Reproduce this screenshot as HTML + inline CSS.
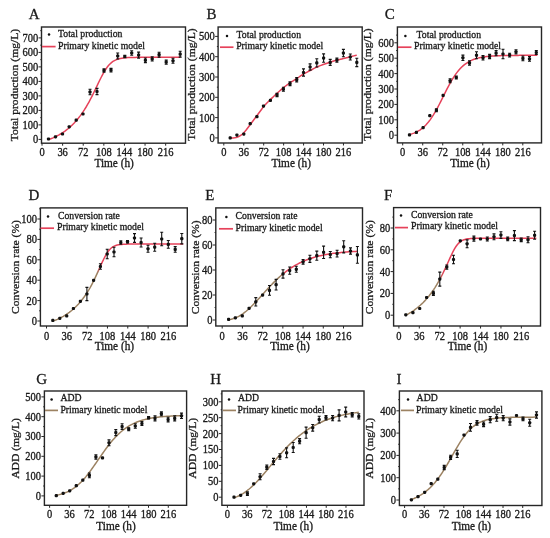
<!DOCTYPE html>
<html><head><meta charset="utf-8"><title>Kinetic model figure</title>
<style>
html,body{margin:0;padding:0;background:#fff;width:550px;height:538px;overflow:hidden}
svg{display:block;filter:blur(0.6px)}
</style></head><body>
<svg width="550" height="538" viewBox="0 0 550 538">
<defs><linearGradient id="gD" gradientUnits="userSpaceOnUse" x1="0" y1="273" x2="0" y2="267"><stop offset="0" stop-color="#9c8262"/><stop offset="1" stop-color="#e6425a"/></linearGradient>
<linearGradient id="gE" gradientUnits="userSpaceOnUse" x1="280" y1="0" x2="286" y2="0"><stop offset="0" stop-color="#9c8262"/><stop offset="1" stop-color="#e6425a"/></linearGradient>
<linearGradient id="gF" gradientUnits="userSpaceOnUse" x1="438" y1="0" x2="444" y2="0"><stop offset="0" stop-color="#9c8262"/><stop offset="1" stop-color="#e6425a"/></linearGradient></defs>
<style>
text{font-family:"Liberation Serif", serif;fill:#1a1a1a;stroke:#1a1a1a;stroke-width:0.3}
.ax{stroke:#262626;stroke-width:1}
.box{fill:none;stroke:#262626;stroke-width:1.4}
.eb{stroke:#111;stroke-width:1.1;fill:none}
</style>
<rect width="550" height="538" fill="#fff"/>
<g><text transform="translate(34.05,19.3) scale(1,1.040)" font-size="15" text-anchor="middle">A</text>
<line x1="38.5" y1="139.4" x2="41.5" y2="139.4" class="ax"/>
<text transform="translate(38.2,143.3) scale(1,1.100)" font-size="10.5" text-anchor="end">0</text>
<line x1="38.5" y1="124.9" x2="41.5" y2="124.9" class="ax"/>
<text transform="translate(38.2,128.8) scale(1,1.100)" font-size="10.5" text-anchor="end">100</text>
<line x1="38.5" y1="110.4" x2="41.5" y2="110.4" class="ax"/>
<text transform="translate(38.2,114.3) scale(1,1.100)" font-size="10.5" text-anchor="end">200</text>
<line x1="38.5" y1="95.9" x2="41.5" y2="95.9" class="ax"/>
<text transform="translate(38.2,99.8) scale(1,1.100)" font-size="10.5" text-anchor="end">300</text>
<line x1="38.5" y1="81.4" x2="41.5" y2="81.4" class="ax"/>
<text transform="translate(38.2,85.3) scale(1,1.100)" font-size="10.5" text-anchor="end">400</text>
<line x1="38.5" y1="66.9" x2="41.5" y2="66.9" class="ax"/>
<text transform="translate(38.2,70.8) scale(1,1.100)" font-size="10.5" text-anchor="end">500</text>
<line x1="38.5" y1="52.4" x2="41.5" y2="52.4" class="ax"/>
<text transform="translate(38.2,56.3) scale(1,1.100)" font-size="10.5" text-anchor="end">600</text>
<line x1="38.5" y1="37.9" x2="41.5" y2="37.9" class="ax"/>
<text transform="translate(38.2,41.8) scale(1,1.100)" font-size="10.5" text-anchor="end">700</text>
<line x1="40.3" y1="132.15" x2="41.5" y2="132.15" class="ax"/>
<line x1="40.3" y1="117.65" x2="41.5" y2="117.65" class="ax"/>
<line x1="40.3" y1="103.15" x2="41.5" y2="103.15" class="ax"/>
<line x1="40.3" y1="88.65" x2="41.5" y2="88.65" class="ax"/>
<line x1="40.3" y1="74.15" x2="41.5" y2="74.15" class="ax"/>
<line x1="40.3" y1="59.65" x2="41.5" y2="59.65" class="ax"/>
<line x1="40.3" y1="45.15" x2="41.5" y2="45.15" class="ax"/>
<line x1="40.3" y1="30.65" x2="41.5" y2="30.65" class="ax"/>
<line x1="42" y1="143.2" x2="42" y2="145.7" class="ax"/>
<text transform="translate(42,155.7) scale(1,1.100)" font-size="10.5" text-anchor="middle">0</text>
<line x1="62.61" y1="143.2" x2="62.61" y2="145.7" class="ax"/>
<text transform="translate(62.61,155.7) scale(1,1.100)" font-size="10.5" text-anchor="middle">36</text>
<line x1="83.22" y1="143.2" x2="83.22" y2="145.7" class="ax"/>
<text transform="translate(83.22,155.7) scale(1,1.100)" font-size="10.5" text-anchor="middle">72</text>
<line x1="103.83" y1="143.2" x2="103.83" y2="145.7" class="ax"/>
<text transform="translate(103.83,155.7) scale(1,1.100)" font-size="10.5" text-anchor="middle">108</text>
<line x1="124.44" y1="143.2" x2="124.44" y2="145.7" class="ax"/>
<text transform="translate(124.44,155.7) scale(1,1.100)" font-size="10.5" text-anchor="middle">144</text>
<line x1="145.05" y1="143.2" x2="145.05" y2="145.7" class="ax"/>
<text transform="translate(145.05,155.7) scale(1,1.100)" font-size="10.5" text-anchor="middle">180</text>
<line x1="165.66" y1="143.2" x2="165.66" y2="145.7" class="ax"/>
<text transform="translate(165.66,155.7) scale(1,1.100)" font-size="10.5" text-anchor="middle">216</text>
<rect x="41.5" y="27" width="144" height="116.2" class="box"/>
<text transform="translate(114.1,166.5) scale(1,1.080)" font-size="11.3" text-anchor="middle">Time (h)</text>
<text transform="translate(18.4,85.1) scale(1,1.074) rotate(-90)" font-size="10.8" text-anchor="middle">Total production (mg/L)</text>
<circle cx="49" cy="34.5" r="1.25" fill="#111"/>
<text transform="translate(58,37.2) scale(1,1.080)" font-size="9.75">Total production</text>
<line x1="42" y1="46.6" x2="55.6" y2="46.6" stroke="#e6425a" stroke-width="1.7"/>
<text transform="translate(58,48.8) scale(1,1.080)" font-size="9.75">Primary kinetic model</text>
<path d="M48.5,139.66 L50,139.1 L51.5,138.5 L53,137.86 L54.5,137.18 L55.99,136.46 L57.49,135.69 L58.99,134.88 L60.49,134.01 L61.99,133.08 L63.49,132.1 L64.99,131.05 L66.49,129.94 L67.99,128.76 L69.48,127.5 L70.98,126.16 L72.48,124.73 L73.98,123.22 L75.48,121.61 L76.98,119.9 L78.48,118.08 L79.98,116.16 L81.47,114.11 L82.97,111.95 L84.47,109.66 L85.97,107.24 L87.47,104.69 L88.97,102.02 L90.47,99.22 L91.97,96.31 L93.47,93.29 L94.96,90.2 L96.46,87.06 L97.96,83.91 L99.46,80.79 L100.96,77.76 L102.46,74.87 L103.96,72.17 L105.46,69.71 L106.96,67.51 L108.45,65.59 L109.95,63.95 L111.45,62.58 L112.95,61.46 L114.45,60.55 L115.95,59.82 L117.45,59.25 L118.95,58.8 L120.45,58.45 L121.94,58.18 L123.44,57.97 L124.94,57.81 L126.44,57.69 L127.94,57.6 L129.44,57.53 L130.94,57.47 L132.44,57.43 L133.94,57.4 L135.43,57.38 L136.93,57.36 L138.43,57.35 L139.93,57.33 L141.43,57.33 L142.93,57.32 L144.43,57.32 L145.93,57.31 L147.43,57.31 L148.92,57.31 L150.42,57.31 L151.92,57.31 L153.42,57.3 L154.92,57.3 L156.42,57.3 L157.92,57.3 L159.42,57.3 L160.91,57.3 L162.41,57.3 L163.91,57.3 L165.41,57.3 L166.91,57.3 L168.41,57.3 L169.91,57.3 L171.41,57.3 L172.91,57.3 L174.4,57.3 L175.9,57.3 L177.4,57.3 L178.9,57.3 L180.4,57.3" fill="none" stroke="#e6425a" stroke-width="1.5"/>
<rect x="46.9" y="137.4" width="3.2" height="3.2" rx="1.1" fill="#111"/>
<rect x="53.9" y="135.2" width="3.2" height="3.2" rx="1.1" fill="#111"/>
<rect x="60.9" y="132.4" width="3.2" height="3.2" rx="1.1" fill="#111"/>
<rect x="67.6" y="125.2" width="3.2" height="3.2" rx="1.1" fill="#111"/>
<rect x="74.6" y="118.6" width="3.2" height="3.2" rx="1.1" fill="#111"/>
<rect x="81.4" y="112.4" width="3.2" height="3.2" rx="1.1" fill="#111"/>
<path d="M90,89.3V94.7M88.5,89.3H91.5M88.5,94.7H91.5" class="eb"/>
<rect x="88.4" y="90.4" width="3.2" height="3.2" rx="1.1" fill="#111"/>
<path d="M97,88.4V94.6M95.5,88.4H98.5M95.5,94.6H98.5" class="eb"/>
<rect x="95.4" y="89.9" width="3.2" height="3.2" rx="1.1" fill="#111"/>
<path d="M104,68.9V72.1M102.5,68.9H105.5M102.5,72.1H105.5" class="eb"/>
<rect x="102.4" y="68.9" width="3.2" height="3.2" rx="1.1" fill="#111"/>
<path d="M111,68.4V72M109.5,68.4H112.5M109.5,72H112.5" class="eb"/>
<rect x="109.4" y="68.6" width="3.2" height="3.2" rx="1.1" fill="#111"/>
<path d="M117.7,53V59M116.2,53H119.2M116.2,59H119.2" class="eb"/>
<rect x="116.1" y="54.4" width="3.2" height="3.2" rx="1.1" fill="#111"/>
<path d="M124.8,55.3V57.7M123.3,55.3H126.3M123.3,57.7H126.3" class="eb"/>
<rect x="123.2" y="54.9" width="3.2" height="3.2" rx="1.1" fill="#111"/>
<path d="M131.7,50.7V55.3M130.2,50.7H133.2M130.2,55.3H133.2" class="eb"/>
<rect x="130.1" y="51.4" width="3.2" height="3.2" rx="1.1" fill="#111"/>
<path d="M138.6,52.1V58.1M137.1,52.1H140.1M137.1,58.1H140.1" class="eb"/>
<rect x="137" y="53.5" width="3.2" height="3.2" rx="1.1" fill="#111"/>
<path d="M145.4,58V62.6M143.9,58H146.9M143.9,62.6H146.9" class="eb"/>
<rect x="143.8" y="58.7" width="3.2" height="3.2" rx="1.1" fill="#111"/>
<path d="M152.2,56.8V61M150.7,56.8H153.7M150.7,61H153.7" class="eb"/>
<rect x="150.6" y="57.3" width="3.2" height="3.2" rx="1.1" fill="#111"/>
<path d="M159.1,52.3V57.1M157.6,52.3H160.6M157.6,57.1H160.6" class="eb"/>
<rect x="157.5" y="53.1" width="3.2" height="3.2" rx="1.1" fill="#111"/>
<path d="M166.2,60.1V64.3M164.7,60.1H167.7M164.7,64.3H167.7" class="eb"/>
<rect x="164.6" y="60.6" width="3.2" height="3.2" rx="1.1" fill="#111"/>
<path d="M173,58.3V63.3M171.5,58.3H174.5M171.5,63.3H174.5" class="eb"/>
<rect x="171.4" y="59.2" width="3.2" height="3.2" rx="1.1" fill="#111"/>
<path d="M180.2,51.3V57.1M178.7,51.3H181.7M178.7,57.1H181.7" class="eb"/>
<rect x="178.6" y="52.6" width="3.2" height="3.2" rx="1.1" fill="#111"/></g>
<g><text transform="translate(211.5,19.3) scale(1,1.040)" font-size="15" text-anchor="middle">B</text>
<line x1="215.1" y1="137.9" x2="218.1" y2="137.9" class="ax"/>
<text transform="translate(214.8,141.8) scale(1,1.100)" font-size="10.5" text-anchor="end">0</text>
<line x1="215.1" y1="117.6" x2="218.1" y2="117.6" class="ax"/>
<text transform="translate(214.8,121.5) scale(1,1.100)" font-size="10.5" text-anchor="end">100</text>
<line x1="215.1" y1="97.3" x2="218.1" y2="97.3" class="ax"/>
<text transform="translate(214.8,101.2) scale(1,1.100)" font-size="10.5" text-anchor="end">200</text>
<line x1="215.1" y1="77" x2="218.1" y2="77" class="ax"/>
<text transform="translate(214.8,80.9) scale(1,1.100)" font-size="10.5" text-anchor="end">300</text>
<line x1="215.1" y1="56.7" x2="218.1" y2="56.7" class="ax"/>
<text transform="translate(214.8,60.6) scale(1,1.100)" font-size="10.5" text-anchor="end">400</text>
<line x1="215.1" y1="36.4" x2="218.1" y2="36.4" class="ax"/>
<text transform="translate(214.8,40.3) scale(1,1.100)" font-size="10.5" text-anchor="end">500</text>
<line x1="216.9" y1="127.75" x2="218.1" y2="127.75" class="ax"/>
<line x1="216.9" y1="107.45" x2="218.1" y2="107.45" class="ax"/>
<line x1="216.9" y1="87.15" x2="218.1" y2="87.15" class="ax"/>
<line x1="216.9" y1="66.85" x2="218.1" y2="66.85" class="ax"/>
<line x1="216.9" y1="46.55" x2="218.1" y2="46.55" class="ax"/>
<line x1="223.8" y1="143" x2="223.8" y2="145.5" class="ax"/>
<text transform="translate(223.8,155.7) scale(1,1.100)" font-size="10.5" text-anchor="middle">0</text>
<line x1="243.74" y1="143" x2="243.74" y2="145.5" class="ax"/>
<text transform="translate(243.74,155.7) scale(1,1.100)" font-size="10.5" text-anchor="middle">36</text>
<line x1="263.69" y1="143" x2="263.69" y2="145.5" class="ax"/>
<text transform="translate(263.69,155.7) scale(1,1.100)" font-size="10.5" text-anchor="middle">72</text>
<line x1="283.63" y1="143" x2="283.63" y2="145.5" class="ax"/>
<text transform="translate(283.63,155.7) scale(1,1.100)" font-size="10.5" text-anchor="middle">108</text>
<line x1="303.58" y1="143" x2="303.58" y2="145.5" class="ax"/>
<text transform="translate(303.58,155.7) scale(1,1.100)" font-size="10.5" text-anchor="middle">144</text>
<line x1="323.52" y1="143" x2="323.52" y2="145.5" class="ax"/>
<text transform="translate(323.52,155.7) scale(1,1.100)" font-size="10.5" text-anchor="middle">180</text>
<line x1="343.46" y1="143" x2="343.46" y2="145.5" class="ax"/>
<text transform="translate(343.46,155.7) scale(1,1.100)" font-size="10.5" text-anchor="middle">216</text>
<rect x="218.1" y="27" width="144.1" height="116" class="box"/>
<text transform="translate(291.2,166.6) scale(1,1.080)" font-size="11.3" text-anchor="middle">Time (h)</text>
<text transform="translate(194.8,84.6) scale(1,1.074) rotate(-90)" font-size="10.8" text-anchor="middle">Total production (mg/L)</text>
<circle cx="227" cy="36" r="1.25" fill="#111"/>
<text transform="translate(236.6,37.6) scale(1,1.080)" font-size="9.75">Total production</text>
<line x1="220" y1="47.2" x2="233.5" y2="47.2" stroke="#e6425a" stroke-width="1.7"/>
<text transform="translate(236.2,49) scale(1,1.080)" font-size="9.75">Primary kinetic model</text>
<path d="M230.2,137.9 L231.69,137.9 L233.18,137.9 L234.67,137.86 L236.16,137.54 L237.65,137.05 L239.14,136.38 L240.63,135.41 L242.12,134.3 L243.6,132.93 L245.09,131.35 L246.58,129.56 L248.07,127.5 L249.56,125.45 L251.05,123.45 L252.54,121.45 L254.03,119.45 L255.52,117.45 L257.01,115.45 L258.5,113.45 L259.99,111.45 L261.48,109.45 L262.97,107.42 L264.46,105.55 L265.95,103.94 L267.44,102.48 L268.92,101.06 L270.41,99.6 L271.9,98.13 L273.39,96.67 L274.88,95.24 L276.37,93.86 L277.86,92.51 L279.35,91.19 L280.84,89.89 L282.33,88.64 L283.82,87.42 L285.31,86.25 L286.8,85.1 L288.29,84 L289.78,82.95 L291.27,81.98 L292.76,81.07 L294.24,80.18 L295.73,79.25 L297.22,78.26 L298.71,77.25 L300.2,76.23 L301.69,75.24 L303.18,74.31 L304.67,73.44 L306.16,72.61 L307.65,71.8 L309.14,71.02 L310.63,70.24 L312.12,69.47 L313.61,68.69 L315.1,67.93 L316.59,67.2 L318.08,66.52 L319.56,65.91 L321.05,65.35 L322.54,64.82 L324.03,64.31 L325.52,63.8 L327.01,63.29 L328.5,62.76 L329.99,62.23 L331.48,61.72 L332.97,61.24 L334.46,60.8 L335.95,60.4 L337.44,60.04 L338.93,59.69 L340.42,59.34 L341.91,58.97 L343.4,58.6 L344.88,58.22 L346.37,57.84 L347.86,57.45 L349.35,57.06 L350.84,56.68 L352.33,56.29 L353.82,55.89 L355.31,55.5 L356.8,55.1" fill="none" stroke="#e6425a" stroke-width="1.5"/>
<rect x="228.6" y="136.3" width="3.2" height="3.2" rx="1.1" fill="#111"/>
<rect x="235.3" y="133.5" width="3.2" height="3.2" rx="1.1" fill="#111"/>
<rect x="242.2" y="132.5" width="3.2" height="3.2" rx="1.1" fill="#111"/>
<rect x="248.6" y="122.1" width="3.2" height="3.2" rx="1.1" fill="#111"/>
<rect x="255.3" y="115.1" width="3.2" height="3.2" rx="1.1" fill="#111"/>
<rect x="261.9" y="104.5" width="3.2" height="3.2" rx="1.1" fill="#111"/>
<rect x="268.8" y="98.8" width="3.2" height="3.2" rx="1.1" fill="#111"/>
<path d="M277,93.4V96.6M275.5,93.4H278.5M275.5,96.6H278.5" class="eb"/>
<rect x="275.4" y="93.4" width="3.2" height="3.2" rx="1.1" fill="#111"/>
<path d="M283.4,87.2V91.2M281.9,87.2H284.9M281.9,91.2H284.9" class="eb"/>
<rect x="281.8" y="87.6" width="3.2" height="3.2" rx="1.1" fill="#111"/>
<path d="M290,81.8V85.6M288.5,81.8H291.5M288.5,85.6H291.5" class="eb"/>
<rect x="288.4" y="82.1" width="3.2" height="3.2" rx="1.1" fill="#111"/>
<path d="M296.7,77.5V81.9M295.2,77.5H298.2M295.2,81.9H298.2" class="eb"/>
<rect x="295.1" y="78.1" width="3.2" height="3.2" rx="1.1" fill="#111"/>
<path d="M303.5,68.9V76.1M302,68.9H305M302,76.1H305" class="eb"/>
<rect x="301.9" y="70.9" width="3.2" height="3.2" rx="1.1" fill="#111"/>
<path d="M310.1,63.9V70.1M308.6,63.9H311.6M308.6,70.1H311.6" class="eb"/>
<rect x="308.5" y="65.4" width="3.2" height="3.2" rx="1.1" fill="#111"/>
<path d="M316.8,58.8V67M315.3,58.8H318.3M315.3,67H318.3" class="eb"/>
<rect x="315.2" y="61.3" width="3.2" height="3.2" rx="1.1" fill="#111"/>
<path d="M323.6,53.9V62.3M322.1,53.9H325.1M322.1,62.3H325.1" class="eb"/>
<rect x="322" y="56.5" width="3.2" height="3.2" rx="1.1" fill="#111"/>
<path d="M330.2,59.4V65.4M328.7,59.4H331.7M328.7,65.4H331.7" class="eb"/>
<rect x="328.6" y="60.8" width="3.2" height="3.2" rx="1.1" fill="#111"/>
<path d="M336.9,58.1V62.1M335.4,58.1H338.4M335.4,62.1H338.4" class="eb"/>
<rect x="335.3" y="58.5" width="3.2" height="3.2" rx="1.1" fill="#111"/>
<path d="M343.4,49.4V56.8M341.9,49.4H344.9M341.9,56.8H344.9" class="eb"/>
<rect x="341.8" y="51.5" width="3.2" height="3.2" rx="1.1" fill="#111"/>
<path d="M350.3,54V60M348.8,54H351.8M348.8,60H351.8" class="eb"/>
<rect x="348.7" y="55.4" width="3.2" height="3.2" rx="1.1" fill="#111"/>
<path d="M356.8,58.2V66.6M355.3,58.2H358.3M355.3,66.6H358.3" class="eb"/>
<rect x="355.2" y="60.8" width="3.2" height="3.2" rx="1.1" fill="#111"/></g>
<g><text transform="translate(389.8,19.4) scale(1,1.040)" font-size="15" text-anchor="middle">C</text>
<line x1="394.4" y1="135.2" x2="397.4" y2="135.2" class="ax"/>
<text transform="translate(394.1,139.1) scale(1,1.100)" font-size="10.5" text-anchor="end">0</text>
<line x1="394.4" y1="119.8" x2="397.4" y2="119.8" class="ax"/>
<text transform="translate(394.1,123.7) scale(1,1.100)" font-size="10.5" text-anchor="end">100</text>
<line x1="394.4" y1="104.4" x2="397.4" y2="104.4" class="ax"/>
<text transform="translate(394.1,108.3) scale(1,1.100)" font-size="10.5" text-anchor="end">200</text>
<line x1="394.4" y1="89" x2="397.4" y2="89" class="ax"/>
<text transform="translate(394.1,92.9) scale(1,1.100)" font-size="10.5" text-anchor="end">300</text>
<line x1="394.4" y1="73.6" x2="397.4" y2="73.6" class="ax"/>
<text transform="translate(394.1,77.5) scale(1,1.100)" font-size="10.5" text-anchor="end">400</text>
<line x1="394.4" y1="58.2" x2="397.4" y2="58.2" class="ax"/>
<text transform="translate(394.1,62.1) scale(1,1.100)" font-size="10.5" text-anchor="end">500</text>
<line x1="394.4" y1="42.8" x2="397.4" y2="42.8" class="ax"/>
<text transform="translate(394.1,46.7) scale(1,1.100)" font-size="10.5" text-anchor="end">600</text>
<line x1="396.2" y1="127.5" x2="397.4" y2="127.5" class="ax"/>
<line x1="396.2" y1="112.1" x2="397.4" y2="112.1" class="ax"/>
<line x1="396.2" y1="96.7" x2="397.4" y2="96.7" class="ax"/>
<line x1="396.2" y1="81.3" x2="397.4" y2="81.3" class="ax"/>
<line x1="396.2" y1="65.9" x2="397.4" y2="65.9" class="ax"/>
<line x1="396.2" y1="50.5" x2="397.4" y2="50.5" class="ax"/>
<line x1="396.2" y1="35.1" x2="397.4" y2="35.1" class="ax"/>
<line x1="402.7" y1="142.9" x2="402.7" y2="145.4" class="ax"/>
<text transform="translate(402.7,155.7) scale(1,1.100)" font-size="10.5" text-anchor="middle">0</text>
<line x1="422.72" y1="142.9" x2="422.72" y2="145.4" class="ax"/>
<text transform="translate(422.72,155.7) scale(1,1.100)" font-size="10.5" text-anchor="middle">36</text>
<line x1="442.73" y1="142.9" x2="442.73" y2="145.4" class="ax"/>
<text transform="translate(442.73,155.7) scale(1,1.100)" font-size="10.5" text-anchor="middle">72</text>
<line x1="462.75" y1="142.9" x2="462.75" y2="145.4" class="ax"/>
<text transform="translate(462.75,155.7) scale(1,1.100)" font-size="10.5" text-anchor="middle">108</text>
<line x1="482.76" y1="142.9" x2="482.76" y2="145.4" class="ax"/>
<text transform="translate(482.76,155.7) scale(1,1.100)" font-size="10.5" text-anchor="middle">144</text>
<line x1="502.78" y1="142.9" x2="502.78" y2="145.4" class="ax"/>
<text transform="translate(502.78,155.7) scale(1,1.100)" font-size="10.5" text-anchor="middle">180</text>
<line x1="522.8" y1="142.9" x2="522.8" y2="145.4" class="ax"/>
<text transform="translate(522.8,155.7) scale(1,1.100)" font-size="10.5" text-anchor="middle">216</text>
<rect x="397.4" y="27" width="144.1" height="115.9" class="box"/>
<text transform="translate(470,166.6) scale(1,1.080)" font-size="11.3" text-anchor="middle">Time (h)</text>
<text transform="translate(371.3,84.6) scale(1,1.074) rotate(-90)" font-size="10.8" text-anchor="middle">Total production (mg/L)</text>
<circle cx="405.4" cy="36" r="1.25" fill="#111"/>
<text transform="translate(416.6,37.6) scale(1,1.080)" font-size="9.75">Total production</text>
<line x1="398" y1="47.2" x2="411.5" y2="47.2" stroke="#e6425a" stroke-width="1.7"/>
<text transform="translate(414,49) scale(1,1.080)" font-size="9.75">Primary kinetic model</text>
<path d="M409.5,134.52 L410.99,134.11 L412.47,133.63 L413.96,133.09 L415.44,132.47 L416.93,131.76 L418.42,130.94 L419.9,130.02 L421.39,128.98 L422.87,127.8 L424.36,126.48 L425.85,125 L427.33,123.37 L428.82,121.57 L430.3,119.6 L431.79,117.45 L433.28,115.15 L434.76,112.68 L436.25,110.07 L437.73,107.33 L439.22,104.49 L440.71,101.57 L442.19,98.6 L443.68,95.61 L445.17,92.64 L446.65,89.71 L448.14,86.86 L449.62,84.1 L451.11,81.46 L452.6,78.96 L454.08,76.61 L455.57,74.43 L457.05,72.4 L458.54,70.54 L460.03,68.84 L461.51,67.3 L463,65.91 L464.48,64.66 L465.97,63.54 L467.46,62.54 L468.94,61.65 L470.43,60.87 L471.91,60.17 L473.4,59.56 L474.89,59.02 L476.37,58.55 L477.86,58.14 L479.34,57.77 L480.83,57.45 L482.32,57.18 L483.8,56.94 L485.29,56.72 L486.77,56.54 L488.26,56.38 L489.75,56.24 L491.23,56.12 L492.72,56.01 L494.2,55.92 L495.69,55.84 L497.18,55.77 L498.66,55.71 L500.15,55.66 L501.63,55.61 L503.12,55.58 L504.61,55.54 L506.09,55.51 L507.58,55.49 L509.07,55.46 L510.55,55.44 L512.04,55.43 L513.52,55.41 L515.01,55.4 L516.5,55.39 L517.98,55.38 L519.47,55.37 L520.95,55.36 L522.44,55.36 L523.93,55.35 L525.41,55.35 L526.9,55.34 L528.38,55.34 L529.87,55.34 L531.36,55.33 L532.84,55.33 L534.33,55.33 L535.81,55.33 L537.3,55.33" fill="none" stroke="#e6425a" stroke-width="1.5"/>
<rect x="407.9" y="133.3" width="3.2" height="3.2" rx="1.1" fill="#111"/>
<rect x="414.8" y="130.8" width="3.2" height="3.2" rx="1.1" fill="#111"/>
<rect x="421.5" y="126.1" width="3.2" height="3.2" rx="1.1" fill="#111"/>
<rect x="428.2" y="114.1" width="3.2" height="3.2" rx="1.1" fill="#111"/>
<path d="M436.4,108.8V111.8M434.9,108.8H437.9M434.9,111.8H437.9" class="eb"/>
<rect x="434.8" y="108.7" width="3.2" height="3.2" rx="1.1" fill="#111"/>
<rect x="441.5" y="93.8" width="3.2" height="3.2" rx="1.1" fill="#111"/>
<path d="M450.1,78.8V82.8M448.6,78.8H451.6M448.6,82.8H451.6" class="eb"/>
<rect x="448.5" y="79.2" width="3.2" height="3.2" rx="1.1" fill="#111"/>
<path d="M456.3,76V79M454.8,76H457.8M454.8,79H457.8" class="eb"/>
<rect x="454.7" y="75.9" width="3.2" height="3.2" rx="1.1" fill="#111"/>
<path d="M462.9,55.1V60.5M461.4,55.1H464.4M461.4,60.5H464.4" class="eb"/>
<rect x="461.3" y="56.2" width="3.2" height="3.2" rx="1.1" fill="#111"/>
<path d="M469.5,60.7V65.1M468,60.7H471M468,65.1H471" class="eb"/>
<rect x="467.9" y="61.3" width="3.2" height="3.2" rx="1.1" fill="#111"/>
<path d="M476.5,51.8V58.8M475,51.8H478M475,58.8H478" class="eb"/>
<rect x="474.9" y="53.7" width="3.2" height="3.2" rx="1.1" fill="#111"/>
<path d="M483,55.6V60M481.5,55.6H484.5M481.5,60H484.5" class="eb"/>
<rect x="481.4" y="56.2" width="3.2" height="3.2" rx="1.1" fill="#111"/>
<path d="M489.6,54.4V58.6M488.1,54.4H491.1M488.1,58.6H491.1" class="eb"/>
<rect x="488" y="54.9" width="3.2" height="3.2" rx="1.1" fill="#111"/>
<path d="M496.1,50.6V55.8M494.6,50.6H497.6M494.6,55.8H497.6" class="eb"/>
<rect x="494.5" y="51.6" width="3.2" height="3.2" rx="1.1" fill="#111"/>
<path d="M503,49.3V58.7M501.5,49.3H504.5M501.5,58.7H504.5" class="eb"/>
<rect x="501.4" y="52.4" width="3.2" height="3.2" rx="1.1" fill="#111"/>
<path d="M509.6,53.2V57M508.1,53.2H511.1M508.1,57H511.1" class="eb"/>
<rect x="508" y="53.5" width="3.2" height="3.2" rx="1.1" fill="#111"/>
<path d="M516,49.7V53.9M514.5,49.7H517.5M514.5,53.9H517.5" class="eb"/>
<rect x="514.4" y="50.2" width="3.2" height="3.2" rx="1.1" fill="#111"/>
<path d="M522.9,56V60.8M521.4,56H524.4M521.4,60.8H524.4" class="eb"/>
<rect x="521.3" y="56.8" width="3.2" height="3.2" rx="1.1" fill="#111"/>
<path d="M529.5,56.5V61.3M528,56.5H531M528,61.3H531" class="eb"/>
<rect x="527.9" y="57.3" width="3.2" height="3.2" rx="1.1" fill="#111"/>
<path d="M536.3,50.5V54.5M534.8,50.5H537.8M534.8,54.5H537.8" class="eb"/>
<rect x="534.7" y="50.9" width="3.2" height="3.2" rx="1.1" fill="#111"/></g>
<g><text transform="translate(33.95,199.8) scale(1,1.040)" font-size="15" text-anchor="middle">D</text>
<line x1="37.4" y1="321" x2="40.4" y2="321" class="ax"/>
<text transform="translate(37.1,324.9) scale(1,1.100)" font-size="10.5" text-anchor="end">0</text>
<line x1="37.4" y1="300.6" x2="40.4" y2="300.6" class="ax"/>
<text transform="translate(37.1,304.5) scale(1,1.100)" font-size="10.5" text-anchor="end">20</text>
<line x1="37.4" y1="280.2" x2="40.4" y2="280.2" class="ax"/>
<text transform="translate(37.1,284.1) scale(1,1.100)" font-size="10.5" text-anchor="end">40</text>
<line x1="37.4" y1="259.8" x2="40.4" y2="259.8" class="ax"/>
<text transform="translate(37.1,263.7) scale(1,1.100)" font-size="10.5" text-anchor="end">60</text>
<line x1="37.4" y1="239.4" x2="40.4" y2="239.4" class="ax"/>
<text transform="translate(37.1,243.3) scale(1,1.100)" font-size="10.5" text-anchor="end">80</text>
<line x1="37.4" y1="219" x2="40.4" y2="219" class="ax"/>
<text transform="translate(37.1,222.9) scale(1,1.100)" font-size="10.5" text-anchor="end">100</text>
<line x1="39.2" y1="310.8" x2="40.4" y2="310.8" class="ax"/>
<line x1="39.2" y1="290.4" x2="40.4" y2="290.4" class="ax"/>
<line x1="39.2" y1="270" x2="40.4" y2="270" class="ax"/>
<line x1="39.2" y1="249.6" x2="40.4" y2="249.6" class="ax"/>
<line x1="39.2" y1="229.2" x2="40.4" y2="229.2" class="ax"/>
<line x1="39.2" y1="208.8" x2="40.4" y2="208.8" class="ax"/>
<line x1="46.5" y1="326" x2="46.5" y2="328.5" class="ax"/>
<text transform="translate(46.5,339.5) scale(1,1.100)" font-size="10.5" text-anchor="middle">0</text>
<line x1="66.82" y1="326" x2="66.82" y2="328.5" class="ax"/>
<text transform="translate(66.82,339.5) scale(1,1.100)" font-size="10.5" text-anchor="middle">36</text>
<line x1="87.14" y1="326" x2="87.14" y2="328.5" class="ax"/>
<text transform="translate(87.14,339.5) scale(1,1.100)" font-size="10.5" text-anchor="middle">72</text>
<line x1="107.46" y1="326" x2="107.46" y2="328.5" class="ax"/>
<text transform="translate(107.46,339.5) scale(1,1.100)" font-size="10.5" text-anchor="middle">108</text>
<line x1="127.77" y1="326" x2="127.77" y2="328.5" class="ax"/>
<text transform="translate(127.77,339.5) scale(1,1.100)" font-size="10.5" text-anchor="middle">144</text>
<line x1="148.09" y1="326" x2="148.09" y2="328.5" class="ax"/>
<text transform="translate(148.09,339.5) scale(1,1.100)" font-size="10.5" text-anchor="middle">180</text>
<line x1="168.41" y1="326" x2="168.41" y2="328.5" class="ax"/>
<text transform="translate(168.41,339.5) scale(1,1.100)" font-size="10.5" text-anchor="middle">216</text>
<rect x="40.4" y="207.9" width="146.9" height="118.1" class="box"/>
<text transform="translate(114.4,349.6) scale(1,1.080)" font-size="11.3" text-anchor="middle">Time (h)</text>
<text transform="translate(18.6,267.05) scale(1,1.074) rotate(-90)" font-size="10.8" text-anchor="middle">Conversion rate (%)</text>
<circle cx="48" cy="216.4" r="1.25" fill="#111"/>
<text transform="translate(58,218.6) scale(1,1.080)" font-size="9.75">Conversion rate</text>
<line x1="40.5" y1="228.2" x2="54" y2="228.2" stroke="#e6425a" stroke-width="1.7"/>
<text transform="translate(57,230.2) scale(1,1.080)" font-size="9.75">Primary kinetic model</text>
<path d="M52.8,321.15 L54.3,320.58 L55.8,319.98 L57.3,319.33 L58.8,318.64 L60.29,317.91 L61.79,317.12 L63.29,316.29 L64.79,315.4 L66.29,314.45 L67.79,313.43 L69.29,312.36 L70.79,311.21 L72.29,309.98 L73.78,308.67 L75.28,307.28 L76.78,305.8 L78.28,304.22 L79.78,302.53 L81.28,300.74 L82.78,298.82 L84.28,296.79 L85.77,294.62 L87.27,292.31 L88.77,289.87 L90.27,287.27 L91.77,284.52 L93.27,281.63 L94.77,278.58 L96.27,275.41 L97.77,272.13 L99.26,268.79 L100.76,265.43 L102.26,262.14 L103.76,258.99 L105.26,256.08 L106.76,253.49 L108.26,251.28 L109.76,249.46 L111.26,248.02 L112.75,246.91 L114.25,246.09 L115.75,245.48 L117.25,245.05 L118.75,244.74 L120.25,244.53 L121.75,244.38 L123.25,244.27 L124.74,244.2 L126.24,244.15 L127.74,244.11 L129.24,244.09 L130.74,244.07 L132.24,244.06 L133.74,244.05 L135.24,244.05 L136.74,244.04 L138.23,244.04 L139.73,244.04 L141.23,244.04 L142.73,244.04 L144.23,244.03 L145.73,244.03 L147.23,244.03 L148.73,244.03 L150.23,244.03 L151.72,244.03 L153.22,244.03 L154.72,244.03 L156.22,244.03 L157.72,244.03 L159.22,244.03 L160.72,244.03 L162.22,244.03 L163.71,244.03 L165.21,244.03 L166.71,244.03 L168.21,244.03 L169.71,244.03 L171.21,244.03 L172.71,244.03 L174.21,244.03 L175.71,244.03 L177.2,244.03 L178.7,244.03 L180.2,244.03 L181.7,244.03 L183.2,244.03" fill="none" stroke="url(#gD)" stroke-width="1.5"/>
<rect x="51.2" y="318.8" width="3.2" height="3.2" rx="1.1" fill="#111"/>
<rect x="58.2" y="316.7" width="3.2" height="3.2" rx="1.1" fill="#111"/>
<rect x="65.1" y="314.3" width="3.2" height="3.2" rx="1.1" fill="#111"/>
<rect x="71.8" y="306.9" width="3.2" height="3.2" rx="1.1" fill="#111"/>
<rect x="78.8" y="299.7" width="3.2" height="3.2" rx="1.1" fill="#111"/>
<path d="M86.9,287.4V300.6M85.4,287.4H88.4M85.4,300.6H88.4" class="eb"/>
<rect x="85.3" y="292.4" width="3.2" height="3.2" rx="1.1" fill="#111"/>
<rect x="92" y="278.7" width="3.2" height="3.2" rx="1.1" fill="#111"/>
<path d="M100.4,263.8V269.2M98.9,263.8H101.9M98.9,269.2H101.9" class="eb"/>
<rect x="98.8" y="264.9" width="3.2" height="3.2" rx="1.1" fill="#111"/>
<path d="M107.2,249.3V258.7M105.7,249.3H108.7M105.7,258.7H108.7" class="eb"/>
<rect x="105.6" y="252.4" width="3.2" height="3.2" rx="1.1" fill="#111"/>
<path d="M114,247.3V256.7M112.5,247.3H115.5M112.5,256.7H115.5" class="eb"/>
<rect x="112.4" y="250.4" width="3.2" height="3.2" rx="1.1" fill="#111"/>
<path d="M120.8,240.7V244.3M119.3,240.7H122.3M119.3,244.3H122.3" class="eb"/>
<rect x="119.2" y="240.9" width="3.2" height="3.2" rx="1.1" fill="#111"/>
<path d="M127.5,240.6V243M126,240.6H129M126,243H129" class="eb"/>
<rect x="125.9" y="240.2" width="3.2" height="3.2" rx="1.1" fill="#111"/>
<path d="M134.5,233.6V242.4M133,233.6H136M133,242.4H136" class="eb"/>
<rect x="132.9" y="236.4" width="3.2" height="3.2" rx="1.1" fill="#111"/>
<path d="M141.1,238V247M139.6,238H142.6M139.6,247H142.6" class="eb"/>
<rect x="139.5" y="240.9" width="3.2" height="3.2" rx="1.1" fill="#111"/>
<path d="M148,245.3V252.3M146.5,245.3H149.5M146.5,252.3H149.5" class="eb"/>
<rect x="146.4" y="247.2" width="3.2" height="3.2" rx="1.1" fill="#111"/>
<path d="M154.7,243.2V251.2M153.2,243.2H156.2M153.2,251.2H156.2" class="eb"/>
<rect x="153.1" y="245.6" width="3.2" height="3.2" rx="1.1" fill="#111"/>
<path d="M161.7,232.2V245.8M160.2,232.2H163.2M160.2,245.8H163.2" class="eb"/>
<rect x="160.1" y="237.4" width="3.2" height="3.2" rx="1.1" fill="#111"/>
<path d="M168.3,240.5V248.3M166.8,240.5H169.8M166.8,248.3H169.8" class="eb"/>
<rect x="166.7" y="242.8" width="3.2" height="3.2" rx="1.1" fill="#111"/>
<path d="M175.2,246.6V252.2M173.7,246.6H176.7M173.7,252.2H176.7" class="eb"/>
<rect x="173.6" y="247.8" width="3.2" height="3.2" rx="1.1" fill="#111"/>
<path d="M181.8,233.5V243.9M180.3,233.5H183.3M180.3,243.9H183.3" class="eb"/>
<rect x="180.2" y="237.1" width="3.2" height="3.2" rx="1.1" fill="#111"/></g>
<g><text transform="translate(209.75,199.8) scale(1,1.040)" font-size="15" text-anchor="middle">E</text>
<line x1="212.8" y1="320" x2="215.8" y2="320" class="ax"/>
<text transform="translate(212.5,323.9) scale(1,1.100)" font-size="10.5" text-anchor="end">0</text>
<line x1="212.8" y1="295" x2="215.8" y2="295" class="ax"/>
<text transform="translate(212.5,298.9) scale(1,1.100)" font-size="10.5" text-anchor="end">20</text>
<line x1="212.8" y1="270" x2="215.8" y2="270" class="ax"/>
<text transform="translate(212.5,273.9) scale(1,1.100)" font-size="10.5" text-anchor="end">40</text>
<line x1="212.8" y1="245" x2="215.8" y2="245" class="ax"/>
<text transform="translate(212.5,248.9) scale(1,1.100)" font-size="10.5" text-anchor="end">60</text>
<line x1="212.8" y1="220" x2="215.8" y2="220" class="ax"/>
<text transform="translate(212.5,223.9) scale(1,1.100)" font-size="10.5" text-anchor="end">80</text>
<line x1="214.6" y1="307.5" x2="215.8" y2="307.5" class="ax"/>
<line x1="214.6" y1="282.5" x2="215.8" y2="282.5" class="ax"/>
<line x1="214.6" y1="257.5" x2="215.8" y2="257.5" class="ax"/>
<line x1="214.6" y1="232.5" x2="215.8" y2="232.5" class="ax"/>
<line x1="222.2" y1="326" x2="222.2" y2="328.5" class="ax"/>
<text transform="translate(222.2,339.5) scale(1,1.100)" font-size="10.5" text-anchor="middle">0</text>
<line x1="242.42" y1="326" x2="242.42" y2="328.5" class="ax"/>
<text transform="translate(242.42,339.5) scale(1,1.100)" font-size="10.5" text-anchor="middle">36</text>
<line x1="262.64" y1="326" x2="262.64" y2="328.5" class="ax"/>
<text transform="translate(262.64,339.5) scale(1,1.100)" font-size="10.5" text-anchor="middle">72</text>
<line x1="282.85" y1="326" x2="282.85" y2="328.5" class="ax"/>
<text transform="translate(282.85,339.5) scale(1,1.100)" font-size="10.5" text-anchor="middle">108</text>
<line x1="303.07" y1="326" x2="303.07" y2="328.5" class="ax"/>
<text transform="translate(303.07,339.5) scale(1,1.100)" font-size="10.5" text-anchor="middle">144</text>
<line x1="323.29" y1="326" x2="323.29" y2="328.5" class="ax"/>
<text transform="translate(323.29,339.5) scale(1,1.100)" font-size="10.5" text-anchor="middle">180</text>
<line x1="343.51" y1="326" x2="343.51" y2="328.5" class="ax"/>
<text transform="translate(343.51,339.5) scale(1,1.100)" font-size="10.5" text-anchor="middle">216</text>
<rect x="215.8" y="207.9" width="146.7" height="118.1" class="box"/>
<text transform="translate(290,349.8) scale(1,1.080)" font-size="11.3" text-anchor="middle">Time (h)</text>
<text transform="translate(198.6,267.4) scale(1,1.074) rotate(-90)" font-size="10.8" text-anchor="middle">Conversion rate (%)</text>
<circle cx="226.4" cy="217" r="1.25" fill="#111"/>
<text transform="translate(235.6,219.2) scale(1,1.080)" font-size="9.75">Conversion rate</text>
<line x1="219" y1="228.8" x2="233" y2="228.8" stroke="#e6425a" stroke-width="1.7"/>
<text transform="translate(235.6,231) scale(1,1.080)" font-size="9.75">Primary kinetic model</text>
<path d="M228.3,319.88 L229.78,319.59 L231.27,319.23 L232.75,318.81 L234.24,318.31 L235.72,317.73 L237.2,317.07 L238.69,316.32 L240.17,315.49 L241.66,314.56 L243.14,313.55 L244.62,312.45 L246.11,311.27 L247.59,310.01 L249.07,308.68 L250.56,307.29 L252.04,305.83 L253.53,304.32 L255.01,302.77 L256.49,301.18 L257.98,299.56 L259.46,297.93 L260.95,296.27 L262.43,294.62 L263.91,292.96 L265.4,291.31 L266.88,289.67 L268.37,288.06 L269.85,286.46 L271.33,284.9 L272.82,283.36 L274.3,281.86 L275.79,280.4 L277.27,278.98 L278.75,277.61 L280.24,276.27 L281.72,274.98 L283.2,273.74 L284.69,272.55 L286.17,271.4 L287.66,270.29 L289.14,269.23 L290.62,268.22 L292.11,267.25 L293.59,266.33 L295.08,265.44 L296.56,264.6 L298.04,263.8 L299.53,263.04 L301.01,262.32 L302.5,261.63 L303.98,260.98 L305.46,260.36 L306.95,259.78 L308.43,259.22 L309.91,258.7 L311.4,258.2 L312.88,257.73 L314.37,257.29 L315.85,256.87 L317.33,256.47 L318.82,256.1 L320.3,255.75 L321.79,255.42 L323.27,255.1 L324.75,254.81 L326.24,254.53 L327.72,254.27 L329.21,254.02 L330.69,253.79 L332.17,253.57 L333.66,253.36 L335.14,253.17 L336.63,252.99 L338.11,252.82 L339.59,252.66 L341.08,252.5 L342.56,252.36 L344.04,252.23 L345.53,252.1 L347.01,251.98 L348.5,251.87 L349.98,251.77 L351.46,251.67 L352.95,251.58 L354.43,251.49 L355.92,251.41 L357.4,251.33" fill="none" stroke="url(#gE)" stroke-width="1.5"/>
<rect x="227" y="317.8" width="3.2" height="3.2" rx="1.1" fill="#111"/>
<rect x="233.8" y="316.2" width="3.2" height="3.2" rx="1.1" fill="#111"/>
<rect x="240.7" y="314.3" width="3.2" height="3.2" rx="1.1" fill="#111"/>
<rect x="247.5" y="306.7" width="3.2" height="3.2" rx="1.1" fill="#111"/>
<path d="M255.8,297.6V306M254.3,297.6H257.3M254.3,306H257.3" class="eb"/>
<rect x="254.2" y="300.2" width="3.2" height="3.2" rx="1.1" fill="#111"/>
<rect x="261" y="293.5" width="3.2" height="3.2" rx="1.1" fill="#111"/>
<path d="M269.5,285.5V295.3M268,285.5H271M268,295.3H271" class="eb"/>
<rect x="267.9" y="288.8" width="3.2" height="3.2" rx="1.1" fill="#111"/>
<path d="M276.1,279.4V290M274.6,279.4H277.6M274.6,290H277.6" class="eb"/>
<rect x="274.5" y="283.1" width="3.2" height="3.2" rx="1.1" fill="#111"/>
<path d="M283,269.7V278.1M281.5,269.7H284.5M281.5,278.1H284.5" class="eb"/>
<rect x="281.4" y="272.3" width="3.2" height="3.2" rx="1.1" fill="#111"/>
<path d="M289.7,267V274.2M288.2,267H291.2M288.2,274.2H291.2" class="eb"/>
<rect x="288.1" y="269" width="3.2" height="3.2" rx="1.1" fill="#111"/>
<path d="M296.3,266.3V272.3M294.8,266.3H297.8M294.8,272.3H297.8" class="eb"/>
<rect x="294.7" y="267.7" width="3.2" height="3.2" rx="1.1" fill="#111"/>
<path d="M303.1,259.5V264.1M301.6,259.5H304.6M301.6,264.1H304.6" class="eb"/>
<rect x="301.5" y="260.2" width="3.2" height="3.2" rx="1.1" fill="#111"/>
<path d="M309.9,255.2V262.4M308.4,255.2H311.4M308.4,262.4H311.4" class="eb"/>
<rect x="308.3" y="257.2" width="3.2" height="3.2" rx="1.1" fill="#111"/>
<path d="M316.8,251.1V260.3M315.3,251.1H318.3M315.3,260.3H318.3" class="eb"/>
<rect x="315.2" y="254.1" width="3.2" height="3.2" rx="1.1" fill="#111"/>
<path d="M323.6,246.1V258.5M322.1,246.1H325.1M322.1,258.5H325.1" class="eb"/>
<rect x="322" y="250.7" width="3.2" height="3.2" rx="1.1" fill="#111"/>
<path d="M330.3,251.5V257.7M328.8,251.5H331.8M328.8,257.7H331.8" class="eb"/>
<rect x="328.7" y="253" width="3.2" height="3.2" rx="1.1" fill="#111"/>
<path d="M337.1,250.2V257M335.6,250.2H338.6M335.6,257H338.6" class="eb"/>
<rect x="335.5" y="252" width="3.2" height="3.2" rx="1.1" fill="#111"/>
<path d="M343.7,240.7V252.9M342.2,240.7H345.2M342.2,252.9H345.2" class="eb"/>
<rect x="342.1" y="245.2" width="3.2" height="3.2" rx="1.1" fill="#111"/>
<path d="M350.5,247.9V254.1M349,247.9H352M349,254.1H352" class="eb"/>
<rect x="348.9" y="249.4" width="3.2" height="3.2" rx="1.1" fill="#111"/>
<path d="M357.4,246.5V263.3M355.9,246.5H358.9M355.9,263.3H358.9" class="eb"/>
<rect x="355.8" y="253.3" width="3.2" height="3.2" rx="1.1" fill="#111"/></g>
<g><text transform="translate(388.2,199.8) scale(1,1.040)" font-size="15" text-anchor="middle">F</text>
<line x1="390.6" y1="315.2" x2="393.6" y2="315.2" class="ax"/>
<text transform="translate(390.3,319.1) scale(1,1.100)" font-size="10.5" text-anchor="end">0</text>
<line x1="390.6" y1="293.4" x2="393.6" y2="293.4" class="ax"/>
<text transform="translate(390.3,297.3) scale(1,1.100)" font-size="10.5" text-anchor="end">20</text>
<line x1="390.6" y1="271.6" x2="393.6" y2="271.6" class="ax"/>
<text transform="translate(390.3,275.5) scale(1,1.100)" font-size="10.5" text-anchor="end">40</text>
<line x1="390.6" y1="249.8" x2="393.6" y2="249.8" class="ax"/>
<text transform="translate(390.3,253.7) scale(1,1.100)" font-size="10.5" text-anchor="end">60</text>
<line x1="390.6" y1="228" x2="393.6" y2="228" class="ax"/>
<text transform="translate(390.3,231.9) scale(1,1.100)" font-size="10.5" text-anchor="end">80</text>
<line x1="392.4" y1="304.3" x2="393.6" y2="304.3" class="ax"/>
<line x1="392.4" y1="282.5" x2="393.6" y2="282.5" class="ax"/>
<line x1="392.4" y1="260.7" x2="393.6" y2="260.7" class="ax"/>
<line x1="392.4" y1="238.9" x2="393.6" y2="238.9" class="ax"/>
<line x1="392.4" y1="217.1" x2="393.6" y2="217.1" class="ax"/>
<line x1="398.9" y1="326" x2="398.9" y2="328.5" class="ax"/>
<text transform="translate(398.9,339.5) scale(1,1.100)" font-size="10.5" text-anchor="middle">0</text>
<line x1="419.31" y1="326" x2="419.31" y2="328.5" class="ax"/>
<text transform="translate(419.31,339.5) scale(1,1.100)" font-size="10.5" text-anchor="middle">36</text>
<line x1="439.72" y1="326" x2="439.72" y2="328.5" class="ax"/>
<text transform="translate(439.72,339.5) scale(1,1.100)" font-size="10.5" text-anchor="middle">72</text>
<line x1="460.14" y1="326" x2="460.14" y2="328.5" class="ax"/>
<text transform="translate(460.14,339.5) scale(1,1.100)" font-size="10.5" text-anchor="middle">108</text>
<line x1="480.55" y1="326" x2="480.55" y2="328.5" class="ax"/>
<text transform="translate(480.55,339.5) scale(1,1.100)" font-size="10.5" text-anchor="middle">144</text>
<line x1="500.96" y1="326" x2="500.96" y2="328.5" class="ax"/>
<text transform="translate(500.96,339.5) scale(1,1.100)" font-size="10.5" text-anchor="middle">180</text>
<line x1="521.37" y1="326" x2="521.37" y2="328.5" class="ax"/>
<text transform="translate(521.37,339.5) scale(1,1.100)" font-size="10.5" text-anchor="middle">216</text>
<rect x="393.6" y="207.6" width="146.9" height="118.4" class="box"/>
<text transform="translate(467.5,349.6) scale(1,1.080)" font-size="11.3" text-anchor="middle">Time (h)</text>
<text transform="translate(373,267.2) scale(1,1.074) rotate(-90)" font-size="10.8" text-anchor="middle">Conversion rate (%)</text>
<circle cx="401" cy="215.6" r="1.25" fill="#111"/>
<text transform="translate(411,217.8) scale(1,1.080)" font-size="9.75">Conversion rate</text>
<line x1="395" y1="227.6" x2="408" y2="227.6" stroke="#e6425a" stroke-width="1.7"/>
<text transform="translate(411,229.2) scale(1,1.080)" font-size="9.75">Primary kinetic model</text>
<path d="M405.4,315.42 L406.89,314.64 L408.38,313.82 L409.86,312.95 L411.35,312.03 L412.84,311.05 L414.32,310.02 L415.81,308.93 L417.3,307.77 L418.79,306.55 L420.27,305.25 L421.76,303.88 L423.25,302.43 L424.74,300.89 L426.22,299.27 L427.71,297.55 L429.2,295.73 L430.69,293.8 L432.17,291.77 L433.66,289.62 L435.15,287.34 L436.64,284.94 L438.12,282.41 L439.61,279.74 L441.1,276.93 L442.59,273.99 L444.07,270.93 L445.56,267.75 L447.05,264.49 L448.54,261.19 L450.02,257.91 L451.51,254.71 L453,251.7 L454.49,248.94 L455.97,246.53 L457.46,244.5 L458.95,242.87 L460.44,241.59 L461.92,240.64 L463.41,239.94 L464.9,239.43 L466.39,239.08 L467.88,238.83 L469.36,238.66 L470.85,238.54 L472.34,238.46 L473.82,238.4 L475.31,238.36 L476.8,238.34 L478.29,238.32 L479.77,238.31 L481.26,238.3 L482.75,238.29 L484.24,238.29 L485.72,238.29 L487.21,238.29 L488.7,238.28 L490.19,238.28 L491.67,238.28 L493.16,238.28 L494.65,238.28 L496.14,238.28 L497.62,238.28 L499.11,238.28 L500.6,238.28 L502.09,238.28 L503.57,238.28 L505.06,238.28 L506.55,238.28 L508.04,238.28 L509.52,238.28 L511.01,238.28 L512.5,238.28 L513.99,238.28 L515.47,238.28 L516.96,238.28 L518.45,238.28 L519.94,238.28 L521.42,238.28 L522.91,238.28 L524.4,238.28 L525.89,238.28 L527.38,238.28 L528.86,238.28 L530.35,238.28 L531.84,238.28 L533.32,238.28 L534.81,238.28 L536.3,238.28" fill="none" stroke="url(#gF)" stroke-width="1.5"/>
<rect x="404.2" y="313.2" width="3.2" height="3.2" rx="1.1" fill="#111"/>
<rect x="411.3" y="311.1" width="3.2" height="3.2" rx="1.1" fill="#111"/>
<rect x="418.1" y="306.9" width="3.2" height="3.2" rx="1.1" fill="#111"/>
<rect x="425" y="295.9" width="3.2" height="3.2" rx="1.1" fill="#111"/>
<path d="M433.4,291.3V295.5M431.9,291.3H434.9M431.9,295.5H434.9" class="eb"/>
<rect x="431.8" y="291.8" width="3.2" height="3.2" rx="1.1" fill="#111"/>
<path d="M439.8,272.1V286.1M438.3,272.1H441.3M438.3,286.1H441.3" class="eb"/>
<rect x="438.2" y="277.5" width="3.2" height="3.2" rx="1.1" fill="#111"/>
<path d="M446.8,265V269.2M445.3,265H448.3M445.3,269.2H448.3" class="eb"/>
<rect x="445.2" y="265.5" width="3.2" height="3.2" rx="1.1" fill="#111"/>
<path d="M453.5,255.2V263.8M452,255.2H455M452,263.8H455" class="eb"/>
<rect x="451.9" y="257.9" width="3.2" height="3.2" rx="1.1" fill="#111"/>
<rect x="458.7" y="239.2" width="3.2" height="3.2" rx="1.1" fill="#111"/>
<path d="M467.1,239.9V247.7M465.6,239.9H468.6M465.6,247.7H468.6" class="eb"/>
<rect x="465.5" y="242.2" width="3.2" height="3.2" rx="1.1" fill="#111"/>
<path d="M473.9,236.1V241.1M472.4,236.1H475.4M472.4,241.1H475.4" class="eb"/>
<rect x="472.3" y="237" width="3.2" height="3.2" rx="1.1" fill="#111"/>
<rect x="478.9" y="237.4" width="3.2" height="3.2" rx="1.1" fill="#111"/>
<path d="M487.3,237V241M485.8,237H488.8M485.8,241H488.8" class="eb"/>
<rect x="485.7" y="237.4" width="3.2" height="3.2" rx="1.1" fill="#111"/>
<path d="M494,233.9V239.7M492.5,233.9H495.5M492.5,239.7H495.5" class="eb"/>
<rect x="492.4" y="235.2" width="3.2" height="3.2" rx="1.1" fill="#111"/>
<path d="M500.9,231.8V238.4M499.4,231.8H502.4M499.4,238.4H502.4" class="eb"/>
<rect x="499.3" y="233.5" width="3.2" height="3.2" rx="1.1" fill="#111"/>
<path d="M507.7,237V240.8M506.2,237H509.2M506.2,240.8H509.2" class="eb"/>
<rect x="506.1" y="237.3" width="3.2" height="3.2" rx="1.1" fill="#111"/>
<path d="M514.4,230.6V240.6M512.9,230.6H515.9M512.9,240.6H515.9" class="eb"/>
<rect x="512.8" y="234" width="3.2" height="3.2" rx="1.1" fill="#111"/>
<path d="M521.2,238V241.6M519.7,238H522.7M519.7,241.6H522.7" class="eb"/>
<rect x="519.6" y="238.2" width="3.2" height="3.2" rx="1.1" fill="#111"/>
<path d="M528,236.8V242.8M526.5,236.8H529.5M526.5,242.8H529.5" class="eb"/>
<rect x="526.4" y="238.2" width="3.2" height="3.2" rx="1.1" fill="#111"/>
<path d="M534.6,231.3V239.3M533.1,231.3H536.1M533.1,239.3H536.1" class="eb"/>
<rect x="533" y="233.7" width="3.2" height="3.2" rx="1.1" fill="#111"/></g>
<g><text transform="translate(41.75,384) scale(1,1.040)" font-size="15" text-anchor="middle">G</text>
<line x1="41.4" y1="495.9" x2="44.4" y2="495.9" class="ax"/>
<text transform="translate(41.1,499.8) scale(1,1.100)" font-size="10.5" text-anchor="end">0</text>
<line x1="41.4" y1="476.1" x2="44.4" y2="476.1" class="ax"/>
<text transform="translate(41.1,480) scale(1,1.100)" font-size="10.5" text-anchor="end">100</text>
<line x1="41.4" y1="456.3" x2="44.4" y2="456.3" class="ax"/>
<text transform="translate(41.1,460.2) scale(1,1.100)" font-size="10.5" text-anchor="end">200</text>
<line x1="41.4" y1="436.5" x2="44.4" y2="436.5" class="ax"/>
<text transform="translate(41.1,440.4) scale(1,1.100)" font-size="10.5" text-anchor="end">300</text>
<line x1="41.4" y1="416.7" x2="44.4" y2="416.7" class="ax"/>
<text transform="translate(41.1,420.6) scale(1,1.100)" font-size="10.5" text-anchor="end">400</text>
<line x1="41.4" y1="396.9" x2="44.4" y2="396.9" class="ax"/>
<text transform="translate(41.1,400.8) scale(1,1.100)" font-size="10.5" text-anchor="end">500</text>
<line x1="43.2" y1="486" x2="44.4" y2="486" class="ax"/>
<line x1="43.2" y1="466.2" x2="44.4" y2="466.2" class="ax"/>
<line x1="43.2" y1="446.4" x2="44.4" y2="446.4" class="ax"/>
<line x1="43.2" y1="426.6" x2="44.4" y2="426.6" class="ax"/>
<line x1="43.2" y1="406.8" x2="44.4" y2="406.8" class="ax"/>
<line x1="49.6" y1="505.3" x2="49.6" y2="507.8" class="ax"/>
<text transform="translate(49.6,518.4) scale(1,1.100)" font-size="10.5" text-anchor="middle">0</text>
<line x1="69.38" y1="505.3" x2="69.38" y2="507.8" class="ax"/>
<text transform="translate(69.38,518.4) scale(1,1.100)" font-size="10.5" text-anchor="middle">36</text>
<line x1="89.16" y1="505.3" x2="89.16" y2="507.8" class="ax"/>
<text transform="translate(89.16,518.4) scale(1,1.100)" font-size="10.5" text-anchor="middle">72</text>
<line x1="108.95" y1="505.3" x2="108.95" y2="507.8" class="ax"/>
<text transform="translate(108.95,518.4) scale(1,1.100)" font-size="10.5" text-anchor="middle">108</text>
<line x1="128.73" y1="505.3" x2="128.73" y2="507.8" class="ax"/>
<text transform="translate(128.73,518.4) scale(1,1.100)" font-size="10.5" text-anchor="middle">144</text>
<line x1="148.51" y1="505.3" x2="148.51" y2="507.8" class="ax"/>
<text transform="translate(148.51,518.4) scale(1,1.100)" font-size="10.5" text-anchor="middle">180</text>
<line x1="168.29" y1="505.3" x2="168.29" y2="507.8" class="ax"/>
<text transform="translate(168.29,518.4) scale(1,1.100)" font-size="10.5" text-anchor="middle">216</text>
<rect x="44.4" y="391" width="142.2" height="114.3" class="box"/>
<text transform="translate(116,529.7) scale(1,1.080)" font-size="11.3" text-anchor="middle">Time (h)</text>
<text transform="translate(18.5,448.45) scale(1,1.074) rotate(-90)" font-size="10.8" text-anchor="middle">ADD (mg/L)</text>
<circle cx="51.6" cy="399.4" r="1.25" fill="#111"/>
<text transform="translate(60.4,401.4) scale(1,1.080)" font-size="9.75">ADD</text>
<line x1="45" y1="410.4" x2="58" y2="410.4" stroke="#9c8262" stroke-width="1.7"/>
<text transform="translate(60.4,412.6) scale(1,1.080)" font-size="9.75">Primary kinetic model</text>
<path d="M56.3,495.29 L57.79,494.98 L59.29,494.64 L60.78,494.25 L62.27,493.81 L63.76,493.32 L65.26,492.77 L66.75,492.15 L68.24,491.47 L69.74,490.71 L71.23,489.86 L72.72,488.94 L74.21,487.92 L75.71,486.81 L77.2,485.61 L78.69,484.31 L80.19,482.91 L81.68,481.41 L83.17,479.82 L84.66,478.14 L86.16,476.36 L87.65,474.51 L89.14,472.58 L90.64,470.58 L92.13,468.52 L93.62,466.42 L95.11,464.28 L96.61,462.11 L98.1,459.94 L99.59,457.76 L101.09,455.6 L102.58,453.45 L104.07,451.34 L105.56,449.27 L107.06,447.25 L108.55,445.29 L110.04,443.4 L111.54,441.57 L113.03,439.82 L114.52,438.14 L116.01,436.55 L117.51,435.03 L119,433.6 L120.49,432.25 L121.99,430.97 L123.48,429.78 L124.97,428.66 L126.46,427.61 L127.96,426.63 L129.45,425.72 L130.94,424.88 L132.44,424.09 L133.93,423.37 L135.42,422.7 L136.91,422.07 L138.41,421.5 L139.9,420.97 L141.39,420.49 L142.89,420.04 L144.38,419.63 L145.87,419.25 L147.36,418.9 L148.86,418.58 L150.35,418.29 L151.84,418.02 L153.34,417.77 L154.83,417.55 L156.32,417.34 L157.81,417.16 L159.31,416.98 L160.8,416.83 L162.29,416.68 L163.79,416.55 L165.28,416.43 L166.77,416.32 L168.26,416.22 L169.76,416.13 L171.25,416.04 L172.74,415.97 L174.24,415.9 L175.73,415.83 L177.22,415.78 L178.71,415.72 L180.21,415.68 L181.7,415.63" fill="none" stroke="#9c8262" stroke-width="1.5"/>
<rect x="54.7" y="494.1" width="3.2" height="3.2" rx="1.1" fill="#111"/>
<rect x="61.6" y="491.7" width="3.2" height="3.2" rx="1.1" fill="#111"/>
<rect x="68.1" y="489.2" width="3.2" height="3.2" rx="1.1" fill="#111"/>
<rect x="74.7" y="484.1" width="3.2" height="3.2" rx="1.1" fill="#111"/>
<rect x="81.2" y="478.6" width="3.2" height="3.2" rx="1.1" fill="#111"/>
<path d="M89.4,473V477.8M87.9,473H90.9M87.9,477.8H90.9" class="eb"/>
<rect x="87.8" y="473.8" width="3.2" height="3.2" rx="1.1" fill="#111"/>
<path d="M95.9,454.7V459.1M94.4,454.7H97.4M94.4,459.1H97.4" class="eb"/>
<rect x="94.3" y="455.3" width="3.2" height="3.2" rx="1.1" fill="#111"/>
<rect x="100.9" y="456.3" width="3.2" height="3.2" rx="1.1" fill="#111"/>
<path d="M109,439.9V445.7M107.5,439.9H110.5M107.5,445.7H110.5" class="eb"/>
<rect x="107.4" y="441.2" width="3.2" height="3.2" rx="1.1" fill="#111"/>
<path d="M115.8,429.6V435.6M114.3,429.6H117.3M114.3,435.6H117.3" class="eb"/>
<rect x="114.2" y="431" width="3.2" height="3.2" rx="1.1" fill="#111"/>
<path d="M122.1,423.8V429.4M120.6,423.8H123.6M120.6,429.4H123.6" class="eb"/>
<rect x="120.5" y="425" width="3.2" height="3.2" rx="1.1" fill="#111"/>
<path d="M128.7,427.7V430.7M127.2,427.7H130.2M127.2,430.7H130.2" class="eb"/>
<rect x="127.1" y="427.6" width="3.2" height="3.2" rx="1.1" fill="#111"/>
<path d="M135.3,423.7V428.3M133.8,423.7H136.8M133.8,428.3H136.8" class="eb"/>
<rect x="133.7" y="424.4" width="3.2" height="3.2" rx="1.1" fill="#111"/>
<path d="M141.9,421.5V425.5M140.4,421.5H143.4M140.4,425.5H143.4" class="eb"/>
<rect x="140.3" y="421.9" width="3.2" height="3.2" rx="1.1" fill="#111"/>
<path d="M148.6,416.5V418.9M147.1,416.5H150.1M147.1,418.9H150.1" class="eb"/>
<rect x="147" y="416.1" width="3.2" height="3.2" rx="1.1" fill="#111"/>
<path d="M155,415.9V420.9M153.5,415.9H156.5M153.5,420.9H156.5" class="eb"/>
<rect x="153.4" y="416.8" width="3.2" height="3.2" rx="1.1" fill="#111"/>
<path d="M161.4,411.7V415.7M159.9,411.7H162.9M159.9,415.7H162.9" class="eb"/>
<rect x="159.8" y="412.1" width="3.2" height="3.2" rx="1.1" fill="#111"/>
<path d="M168.1,417.3V421.9M166.6,417.3H169.6M166.6,421.9H169.6" class="eb"/>
<rect x="166.5" y="418" width="3.2" height="3.2" rx="1.1" fill="#111"/>
<path d="M174.7,415.9V420.9M173.2,415.9H176.2M173.2,420.9H176.2" class="eb"/>
<rect x="173.1" y="416.8" width="3.2" height="3.2" rx="1.1" fill="#111"/>
<path d="M181.5,413.1V418.5M180,413.1H183M180,418.5H183" class="eb"/>
<rect x="179.9" y="414.2" width="3.2" height="3.2" rx="1.1" fill="#111"/></g>
<g><text transform="translate(215.65,383.8) scale(1,1.040)" font-size="15" text-anchor="middle">H</text>
<line x1="218.9" y1="497.2" x2="221.9" y2="497.2" class="ax"/>
<text transform="translate(218.6,501.1) scale(1,1.100)" font-size="10.5" text-anchor="end">0</text>
<line x1="218.9" y1="481.3" x2="221.9" y2="481.3" class="ax"/>
<text transform="translate(218.6,485.2) scale(1,1.100)" font-size="10.5" text-anchor="end">50</text>
<line x1="218.9" y1="465.4" x2="221.9" y2="465.4" class="ax"/>
<text transform="translate(218.6,469.3) scale(1,1.100)" font-size="10.5" text-anchor="end">100</text>
<line x1="218.9" y1="449.5" x2="221.9" y2="449.5" class="ax"/>
<text transform="translate(218.6,453.4) scale(1,1.100)" font-size="10.5" text-anchor="end">150</text>
<line x1="218.9" y1="433.6" x2="221.9" y2="433.6" class="ax"/>
<text transform="translate(218.6,437.5) scale(1,1.100)" font-size="10.5" text-anchor="end">200</text>
<line x1="218.9" y1="417.7" x2="221.9" y2="417.7" class="ax"/>
<text transform="translate(218.6,421.6) scale(1,1.100)" font-size="10.5" text-anchor="end">250</text>
<line x1="218.9" y1="401.8" x2="221.9" y2="401.8" class="ax"/>
<text transform="translate(218.6,405.7) scale(1,1.100)" font-size="10.5" text-anchor="end">300</text>
<line x1="220.7" y1="489.25" x2="221.9" y2="489.25" class="ax"/>
<line x1="220.7" y1="473.35" x2="221.9" y2="473.35" class="ax"/>
<line x1="220.7" y1="457.45" x2="221.9" y2="457.45" class="ax"/>
<line x1="220.7" y1="441.55" x2="221.9" y2="441.55" class="ax"/>
<line x1="220.7" y1="425.65" x2="221.9" y2="425.65" class="ax"/>
<line x1="220.7" y1="409.75" x2="221.9" y2="409.75" class="ax"/>
<line x1="220.7" y1="393.85" x2="221.9" y2="393.85" class="ax"/>
<line x1="227.4" y1="505.3" x2="227.4" y2="507.8" class="ax"/>
<text transform="translate(227.4,518.4) scale(1,1.100)" font-size="10.5" text-anchor="middle">0</text>
<line x1="247.16" y1="505.3" x2="247.16" y2="507.8" class="ax"/>
<text transform="translate(247.16,518.4) scale(1,1.100)" font-size="10.5" text-anchor="middle">36</text>
<line x1="266.93" y1="505.3" x2="266.93" y2="507.8" class="ax"/>
<text transform="translate(266.93,518.4) scale(1,1.100)" font-size="10.5" text-anchor="middle">72</text>
<line x1="286.69" y1="505.3" x2="286.69" y2="507.8" class="ax"/>
<text transform="translate(286.69,518.4) scale(1,1.100)" font-size="10.5" text-anchor="middle">108</text>
<line x1="306.46" y1="505.3" x2="306.46" y2="507.8" class="ax"/>
<text transform="translate(306.46,518.4) scale(1,1.100)" font-size="10.5" text-anchor="middle">144</text>
<line x1="326.22" y1="505.3" x2="326.22" y2="507.8" class="ax"/>
<text transform="translate(326.22,518.4) scale(1,1.100)" font-size="10.5" text-anchor="middle">180</text>
<line x1="345.98" y1="505.3" x2="345.98" y2="507.8" class="ax"/>
<text transform="translate(345.98,518.4) scale(1,1.100)" font-size="10.5" text-anchor="middle">216</text>
<rect x="221.9" y="391" width="142.1" height="114.3" class="box"/>
<text transform="translate(293.2,529.7) scale(1,1.080)" font-size="11.3" text-anchor="middle">Time (h)</text>
<text transform="translate(195.8,448.3) scale(1,1.074) rotate(-90)" font-size="10.8" text-anchor="middle">ADD (mg/L)</text>
<circle cx="229" cy="399.4" r="1.25" fill="#111"/>
<text transform="translate(238,401.4) scale(1,1.080)" font-size="9.75">ADD</text>
<line x1="223" y1="410.4" x2="236" y2="410.4" stroke="#9c8262" stroke-width="1.7"/>
<text transform="translate(237.6,412.6) scale(1,1.080)" font-size="9.75">Primary kinetic model</text>
<path d="M234,497.76 L235.49,497.25 L236.97,496.66 L238.46,496 L239.94,495.27 L241.43,494.46 L242.91,493.57 L244.4,492.61 L245.89,491.56 L247.37,490.44 L248.86,489.24 L250.34,487.97 L251.83,486.63 L253.31,485.22 L254.8,483.75 L256.29,482.23 L257.77,480.65 L259.26,479.03 L260.74,477.37 L262.23,475.68 L263.71,473.95 L265.2,472.2 L266.69,470.44 L268.17,468.66 L269.66,466.88 L271.14,465.1 L272.63,463.32 L274.11,461.55 L275.6,459.79 L277.09,458.05 L278.57,456.33 L280.06,454.63 L281.54,452.96 L283.03,451.32 L284.51,449.71 L286,448.13 L287.49,446.59 L288.97,445.08 L290.46,443.62 L291.94,442.19 L293.43,440.81 L294.91,439.46 L296.4,438.16 L297.89,436.9 L299.37,435.67 L300.86,434.49 L302.34,433.35 L303.83,432.25 L305.31,431.19 L306.8,430.17 L308.29,429.19 L309.77,428.25 L311.26,427.34 L312.74,426.47 L314.23,425.63 L315.71,424.83 L317.2,424.06 L318.69,423.33 L320.17,422.62 L321.66,421.95 L323.14,421.3 L324.63,420.68 L326.11,420.09 L327.6,419.53 L329.09,418.99 L330.57,418.48 L332.06,417.99 L333.54,417.52 L335.03,417.07 L336.51,416.65 L338,416.24 L339.49,415.85 L340.97,415.48 L342.46,415.13 L343.94,414.8 L345.43,414.48 L346.91,414.18 L348.4,413.89 L349.89,413.61 L351.37,413.35 L352.86,413.1 L354.34,412.87 L355.83,412.64 L357.31,412.43 L358.8,412.22" fill="none" stroke="#9c8262" stroke-width="1.5"/>
<rect x="232.4" y="495.6" width="3.2" height="3.2" rx="1.1" fill="#111"/>
<rect x="239.1" y="493.7" width="3.2" height="3.2" rx="1.1" fill="#111"/>
<path d="M247.4,491.7V495.5M245.9,491.7H248.9M245.9,495.5H248.9" class="eb"/>
<rect x="245.8" y="492" width="3.2" height="3.2" rx="1.1" fill="#111"/>
<rect x="252.1" y="482.2" width="3.2" height="3.2" rx="1.1" fill="#111"/>
<path d="M260.1,473.8V479.8M258.6,473.8H261.6M258.6,479.8H261.6" class="eb"/>
<rect x="258.5" y="475.2" width="3.2" height="3.2" rx="1.1" fill="#111"/>
<path d="M266.8,465V469.4M265.3,465H268.3M265.3,469.4H268.3" class="eb"/>
<rect x="265.2" y="465.6" width="3.2" height="3.2" rx="1.1" fill="#111"/>
<path d="M273.5,458.4V464.6M272,458.4H275M272,464.6H275" class="eb"/>
<rect x="271.9" y="459.9" width="3.2" height="3.2" rx="1.1" fill="#111"/>
<path d="M279.9,453.7V459.3M278.4,453.7H281.4M278.4,459.3H281.4" class="eb"/>
<rect x="278.3" y="454.9" width="3.2" height="3.2" rx="1.1" fill="#111"/>
<path d="M286.6,447.9V457.7M285.1,447.9H288.1M285.1,457.7H288.1" class="eb"/>
<rect x="285" y="451.2" width="3.2" height="3.2" rx="1.1" fill="#111"/>
<path d="M293.2,442.5V452.5M291.7,442.5H294.7M291.7,452.5H294.7" class="eb"/>
<rect x="291.6" y="445.9" width="3.2" height="3.2" rx="1.1" fill="#111"/>
<path d="M299.6,438.6V443.8M298.1,438.6H301.1M298.1,443.8H301.1" class="eb"/>
<rect x="298" y="439.6" width="3.2" height="3.2" rx="1.1" fill="#111"/>
<path d="M306.1,427.1V438.3M304.6,427.1H307.6M304.6,438.3H307.6" class="eb"/>
<rect x="304.5" y="431.1" width="3.2" height="3.2" rx="1.1" fill="#111"/>
<path d="M312.7,424.5V431.1M311.2,424.5H314.2M311.2,431.1H314.2" class="eb"/>
<rect x="311.1" y="426.2" width="3.2" height="3.2" rx="1.1" fill="#111"/>
<path d="M319.2,416.2V423M317.7,416.2H320.7M317.7,423H320.7" class="eb"/>
<rect x="317.6" y="418" width="3.2" height="3.2" rx="1.1" fill="#111"/>
<path d="M326,415.5V419.9M324.5,415.5H327.5M324.5,419.9H327.5" class="eb"/>
<rect x="324.4" y="416.1" width="3.2" height="3.2" rx="1.1" fill="#111"/>
<path d="M332.6,415.5V420.7M331.1,415.5H334.1M331.1,420.7H334.1" class="eb"/>
<rect x="331" y="416.5" width="3.2" height="3.2" rx="1.1" fill="#111"/>
<path d="M339.1,409.9V420.9M337.6,409.9H340.6M337.6,420.9H340.6" class="eb"/>
<rect x="337.5" y="413.8" width="3.2" height="3.2" rx="1.1" fill="#111"/>
<path d="M345.7,407.1V416.9M344.2,407.1H347.2M344.2,416.9H347.2" class="eb"/>
<rect x="344.1" y="410.4" width="3.2" height="3.2" rx="1.1" fill="#111"/>
<path d="M352.2,412.5V416.9M350.7,412.5H353.7M350.7,416.9H353.7" class="eb"/>
<rect x="350.6" y="413.1" width="3.2" height="3.2" rx="1.1" fill="#111"/>
<path d="M358.8,413.8V419M357.3,413.8H360.3M357.3,419H360.3" class="eb"/>
<rect x="357.2" y="414.8" width="3.2" height="3.2" rx="1.1" fill="#111"/></g>
<g><text transform="translate(399.1,383.6) scale(1,1.040)" font-size="15" text-anchor="middle">I</text>
<line x1="396.4" y1="500" x2="399.4" y2="500" class="ax"/>
<text transform="translate(396.1,503.9) scale(1,1.100)" font-size="10.5" text-anchor="end">0</text>
<line x1="396.4" y1="477.7" x2="399.4" y2="477.7" class="ax"/>
<text transform="translate(396.1,481.6) scale(1,1.100)" font-size="10.5" text-anchor="end">100</text>
<line x1="396.4" y1="455.4" x2="399.4" y2="455.4" class="ax"/>
<text transform="translate(396.1,459.3) scale(1,1.100)" font-size="10.5" text-anchor="end">200</text>
<line x1="396.4" y1="433.1" x2="399.4" y2="433.1" class="ax"/>
<text transform="translate(396.1,437) scale(1,1.100)" font-size="10.5" text-anchor="end">300</text>
<line x1="396.4" y1="410.8" x2="399.4" y2="410.8" class="ax"/>
<text transform="translate(396.1,414.7) scale(1,1.100)" font-size="10.5" text-anchor="end">400</text>
<line x1="398.2" y1="488.85" x2="399.4" y2="488.85" class="ax"/>
<line x1="398.2" y1="466.55" x2="399.4" y2="466.55" class="ax"/>
<line x1="398.2" y1="444.25" x2="399.4" y2="444.25" class="ax"/>
<line x1="398.2" y1="421.95" x2="399.4" y2="421.95" class="ax"/>
<line x1="398.2" y1="399.65" x2="399.4" y2="399.65" class="ax"/>
<line x1="404.6" y1="505.5" x2="404.6" y2="508" class="ax"/>
<text transform="translate(404.6,518.4) scale(1,1.100)" font-size="10.5" text-anchor="middle">0</text>
<line x1="424.28" y1="505.5" x2="424.28" y2="508" class="ax"/>
<text transform="translate(424.28,518.4) scale(1,1.100)" font-size="10.5" text-anchor="middle">36</text>
<line x1="443.97" y1="505.5" x2="443.97" y2="508" class="ax"/>
<text transform="translate(443.97,518.4) scale(1,1.100)" font-size="10.5" text-anchor="middle">72</text>
<line x1="463.65" y1="505.5" x2="463.65" y2="508" class="ax"/>
<text transform="translate(463.65,518.4) scale(1,1.100)" font-size="10.5" text-anchor="middle">108</text>
<line x1="483.34" y1="505.5" x2="483.34" y2="508" class="ax"/>
<text transform="translate(483.34,518.4) scale(1,1.100)" font-size="10.5" text-anchor="middle">144</text>
<line x1="503.02" y1="505.5" x2="503.02" y2="508" class="ax"/>
<text transform="translate(503.02,518.4) scale(1,1.100)" font-size="10.5" text-anchor="middle">180</text>
<line x1="522.71" y1="505.5" x2="522.71" y2="508" class="ax"/>
<text transform="translate(522.71,518.4) scale(1,1.100)" font-size="10.5" text-anchor="middle">216</text>
<rect x="399.4" y="391" width="142.5" height="114.5" class="box"/>
<text transform="translate(471.4,529.7) scale(1,1.080)" font-size="11.3" text-anchor="middle">Time (h)</text>
<text transform="translate(373.2,448.3) scale(1,1.074) rotate(-90)" font-size="10.8" text-anchor="middle">ADD (mg/L)</text>
<circle cx="408" cy="399.4" r="1.25" fill="#111"/>
<text transform="translate(416.6,401.4) scale(1,1.080)" font-size="9.75">ADD</text>
<line x1="401" y1="410.4" x2="414" y2="410.4" stroke="#9c8262" stroke-width="1.7"/>
<text transform="translate(416,412.6) scale(1,1.080)" font-size="9.75">Primary kinetic model</text>
<path d="M411,499.66 L412.49,499.09 L413.98,498.47 L415.47,497.81 L416.96,497.09 L418.45,496.31 L419.94,495.47 L421.43,494.57 L422.91,493.59 L424.4,492.54 L425.89,491.4 L427.38,490.19 L428.87,488.88 L430.36,487.47 L431.85,485.97 L433.34,484.37 L434.83,482.67 L436.32,480.85 L437.81,478.93 L439.3,476.9 L440.79,474.77 L442.27,472.54 L443.76,470.21 L445.25,467.79 L446.74,465.3 L448.23,462.75 L449.72,460.14 L451.21,457.51 L452.7,454.86 L454.19,452.23 L455.68,449.62 L457.17,447.06 L458.66,444.58 L460.15,442.18 L461.64,439.89 L463.12,437.71 L464.61,435.67 L466.1,433.75 L467.59,431.98 L469.08,430.35 L470.57,428.86 L472.06,427.51 L473.55,426.28 L475.04,425.18 L476.53,424.2 L478.02,423.32 L479.51,422.54 L481,421.85 L482.49,421.24 L483.98,420.7 L485.46,420.24 L486.95,419.82 L488.44,419.46 L489.93,419.15 L491.42,418.88 L492.91,418.64 L494.4,418.43 L495.89,418.25 L497.38,418.1 L498.87,417.96 L500.36,417.85 L501.85,417.74 L503.34,417.66 L504.83,417.58 L506.31,417.51 L507.8,417.46 L509.29,417.41 L510.78,417.37 L512.27,417.33 L513.76,417.3 L515.25,417.27 L516.74,417.25 L518.23,417.23 L519.72,417.21 L521.21,417.19 L522.7,417.18 L524.19,417.17 L525.68,417.16 L527.16,417.15 L528.65,417.14 L530.14,417.14 L531.63,417.13 L533.12,417.13 L534.61,417.12 L536.1,417.12" fill="none" stroke="#9c8262" stroke-width="1.5"/>
<rect x="409.8" y="498.2" width="3.2" height="3.2" rx="1.1" fill="#111"/>
<rect x="416.4" y="495.1" width="3.2" height="3.2" rx="1.1" fill="#111"/>
<rect x="423.1" y="490.7" width="3.2" height="3.2" rx="1.1" fill="#111"/>
<rect x="429.6" y="482.1" width="3.2" height="3.2" rx="1.1" fill="#111"/>
<rect x="436.2" y="477.6" width="3.2" height="3.2" rx="1.1" fill="#111"/>
<path d="M444.2,465.4V469.6M442.7,465.4H445.7M442.7,469.6H445.7" class="eb"/>
<rect x="442.6" y="465.9" width="3.2" height="3.2" rx="1.1" fill="#111"/>
<path d="M450.6,455.2V459.4M449.1,455.2H452.1M449.1,459.4H452.1" class="eb"/>
<rect x="449" y="455.7" width="3.2" height="3.2" rx="1.1" fill="#111"/>
<path d="M457.2,450.3V457.5M455.7,450.3H458.7M455.7,457.5H458.7" class="eb"/>
<rect x="455.6" y="452.3" width="3.2" height="3.2" rx="1.1" fill="#111"/>
<rect x="462.4" y="433.5" width="3.2" height="3.2" rx="1.1" fill="#111"/>
<path d="M470.5,423.5V431.3M469,423.5H472M469,431.3H472" class="eb"/>
<rect x="468.9" y="425.8" width="3.2" height="3.2" rx="1.1" fill="#111"/>
<path d="M477,420.5V425.1M475.5,420.5H478.5M475.5,425.1H478.5" class="eb"/>
<rect x="475.4" y="421.2" width="3.2" height="3.2" rx="1.1" fill="#111"/>
<path d="M483.6,422V426.6M482.1,422H485.1M482.1,426.6H485.1" class="eb"/>
<rect x="482" y="422.7" width="3.2" height="3.2" rx="1.1" fill="#111"/>
<path d="M490.2,416.6V422.8M488.7,416.6H491.7M488.7,422.8H491.7" class="eb"/>
<rect x="488.6" y="418.1" width="3.2" height="3.2" rx="1.1" fill="#111"/>
<path d="M496.7,414.2V421.2M495.2,414.2H498.2M495.2,421.2H498.2" class="eb"/>
<rect x="495.1" y="416.1" width="3.2" height="3.2" rx="1.1" fill="#111"/>
<path d="M503.2,415.5V420.7M501.7,415.5H504.7M501.7,420.7H504.7" class="eb"/>
<rect x="501.6" y="416.5" width="3.2" height="3.2" rx="1.1" fill="#111"/>
<path d="M509.9,418.9V425.1M508.4,418.9H511.4M508.4,425.1H511.4" class="eb"/>
<rect x="508.3" y="420.4" width="3.2" height="3.2" rx="1.1" fill="#111"/>
<rect x="514.9" y="413.9" width="3.2" height="3.2" rx="1.1" fill="#111"/>
<path d="M523,417V420.8M521.5,417H524.5M521.5,420.8H524.5" class="eb"/>
<rect x="521.4" y="417.3" width="3.2" height="3.2" rx="1.1" fill="#111"/>
<path d="M529.7,419.3V426.3M528.2,419.3H531.2M528.2,426.3H531.2" class="eb"/>
<rect x="528.1" y="421.2" width="3.2" height="3.2" rx="1.1" fill="#111"/>
<path d="M536.5,411.9V418.1M535,411.9H538M535,418.1H538" class="eb"/>
<rect x="534.9" y="413.4" width="3.2" height="3.2" rx="1.1" fill="#111"/></g>
</svg>
</body></html>
